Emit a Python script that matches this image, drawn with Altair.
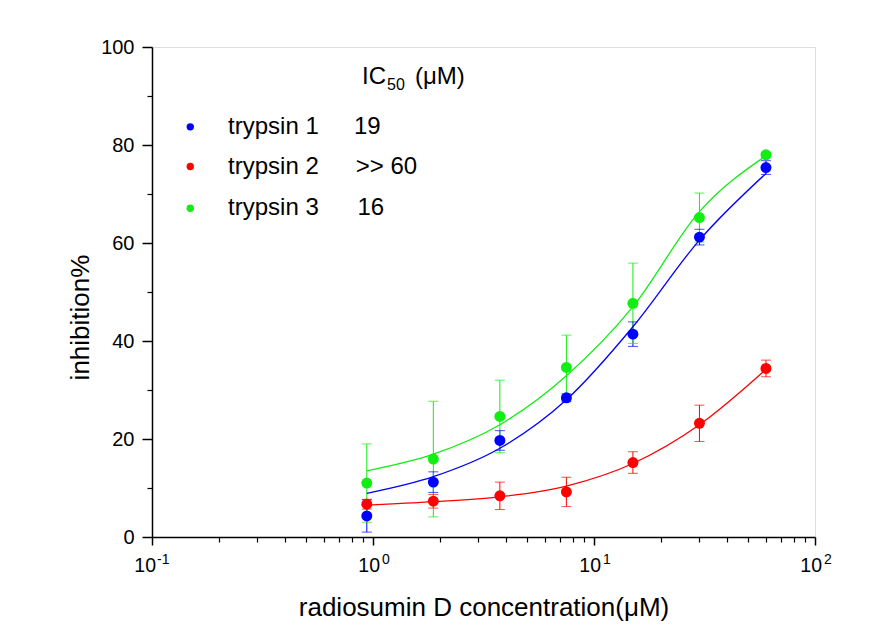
import altair as alt
import pandas as pd

# ---------------- data ----------------
conc = [0.9375, 1.875, 3.75, 7.5, 15, 30, 60]
series = ["trypsin 1", "trypsin 2", "trypsin 3"]
ic50 = ["19", ">> 60", "16"]
colors = ["#0000ff", "#ff0000", "#11ee11"]

t1_mean = [4.3, 11.2, 19.7, 28.4, 41.4, 61.2, 75.4]
t1_err = [3.3, 2.1, 2.0, 0.8, 2.5, 1.6, 1.4]
t2_mean = [6.7, 7.3, 8.4, 9.2, 15.2, 23.2, 34.4]
t2_err = [1.0, 1.4, 2.8, 3.0, 2.2, 3.7, 1.7]
t3_mean = [11.0, 15.9, 24.6, 34.6, 47.7, 65.2, 78.0]
t3_err = [8.0, 11.8, 7.4, 6.6, 8.2, 5.0, 0.5]

# fitted curves (at each concentration)
t1_fit = [8.9, 12.3, 18.1, 28.0, 42.9, 60.6, 74.2]
t2_fit = [6.5, 7.2, 8.2, 10.4, 15.0, 22.9, 34.2]
t3_fit = [13.5, 16.9, 22.9, 32.9, 47.0, 66.4, 77.8]

x_major = [0.1, 1, 10, 100]
x_exp = ["-1", "0", "1", "2"]
x_minor = [0.2, 0.3, 0.4, 0.5, 0.6, 0.7, 0.8, 0.9,
           2, 3, 4, 5, 6, 7, 8, 9,
           20, 30, 40, 50, 60, 70, 80, 90]
y_major = [0, 20, 40, 60, 80, 100]
y_minor = [10, 30, 50, 70, 90]

# ---------------- tables ----------------
means = [t1_mean, t2_mean, t3_mean]
errs = [t1_err, t2_err, t3_err]
fits = [t1_fit, t2_fit, t3_fit]
rows = []
for s, m, e, f in zip(series, means, errs, fits):
    for c, mv, ev, fv in zip(conc, m, e, f):
        rows.append({"series": s, "conc": c, "mean": mv,
                     "lo": mv - ev, "hi": mv + ev, "fit": fv})
df = pd.DataFrame(rows)

# legend layout (anchor positions in data units)
LEG_DOT_X = 0.149
LEG_LABEL_X = 0.221
LEG_VAL_X = [0.820, 0.835, 0.851]
LEG_Y = [83.7, 75.6, 67.1]
TITLE_X, TITLE_Y = 0.892, 93.8
leg = pd.DataFrame({"series": series, "ic50": ic50, "y": LEG_Y,
                    "dotx": [LEG_DOT_X] * 3, "labx": [LEG_LABEL_X] * 3,
                    "valx": LEG_VAL_X})
ticklab = pd.DataFrame({"x": x_major, "exp": x_exp, "y": [0] * 4})

FONT = "Liberation Sans"
xscale = alt.Scale(type="log", domain=[0.1, 100], nice=False)
yscale = alt.Scale(domain=[0, 100], nice=False, zero=False)
cscale = alt.Scale(domain=series, range=colors)
col = alt.Color("series:N", scale=cscale, legend=None)

main_x_axis = alt.Axis(values=x_major, labels=False, tickSize=8, tickWidth=1.5,
                       tickColor="black", domainColor="black", domainWidth=1.5,
                       grid=False, orient="bottom",
                       title="radiosumin D concentration(\u03bcM)",
                       titleFont=FONT, titleFontSize=26, titleFontWeight="normal",
                       titleColor="black", titleBaseline="middle", titleY=70)
main_y_axis = alt.Axis(values=y_major, tickSize=10, tickWidth=1.5, tickColor="black",
                       domainColor="black", domainWidth=1.5, grid=False, orient="left",
                       labelFont=FONT, labelFontSize=20, labelColor="black",
                       labelPadding=8, title="inhibition%", titleFont=FONT,
                       titleFontSize=26, titleFontWeight="normal", titleColor="black",
                       titleX=-72, titleY=270, titleAngle=-90,
                       titleBaseline="middle", titleAlign="center")
minor_x_axis = alt.Axis(values=x_minor, labels=False, tickSize=5, tickWidth=1.2,
                        tickColor="black", domain=False, grid=False, orient="bottom",
                        title=None)
minor_y_axis = alt.Axis(values=y_minor, labels=False, tickSize=5, tickWidth=1.2,
                        tickColor="black", domain=False, grid=False, orient="left",
                        title=None)

base = alt.Chart(df)

err = base.mark_rule(strokeWidth=1).encode(
    x=alt.X("conc:Q", scale=xscale, axis=main_x_axis),
    y=alt.Y("lo:Q", scale=yscale, axis=main_y_axis),
    y2="hi:Q", color=col)

cap_lo = base.mark_tick(orient="horizontal", size=10, thickness=1).encode(
    x=alt.X("conc:Q", scale=xscale, axis=minor_x_axis),
    y=alt.Y("lo:Q", scale=yscale, axis=minor_y_axis), color=col)
cap_hi = base.mark_tick(orient="horizontal", size=10, thickness=1).encode(
    x=alt.X("conc:Q", scale=xscale, axis=None),
    y=alt.Y("hi:Q", scale=yscale, axis=None), color=col)

lines = base.mark_line(strokeWidth=1.3, interpolate="monotone").encode(
    x=alt.X("conc:Q", scale=xscale, axis=None),
    y=alt.Y("fit:Q", scale=yscale, axis=None), color=col, detail="series:N")

pts = base.mark_circle(size=120, opacity=1).encode(
    x=alt.X("conc:Q", scale=xscale, axis=None),
    y=alt.Y("mean:Q", scale=yscale, axis=None), color=col)

lbase = alt.Chart(leg)
leg_dots = lbase.mark_circle(size=55, opacity=1).encode(
    x=alt.X("dotx:Q", scale=xscale, axis=None),
    y=alt.Y("y:Q", scale=yscale, axis=None), color=col)
leg_lab = lbase.mark_text(align="left", baseline="middle", font=FONT, fontSize=24,
                          color="black").encode(
    x=alt.X("labx:Q", scale=xscale, axis=None),
    y=alt.Y("y:Q", scale=yscale, axis=None), text="series:N")
leg_val = lbase.mark_text(align="left", baseline="middle", font=FONT, fontSize=24,
                          color="black").encode(
    x=alt.X("valx:Q", scale=xscale, axis=None),
    y=alt.Y("y:Q", scale=yscale, axis=None), text="ic50:N")

title_df = pd.DataFrame({"x": [TITLE_X], "y": [TITLE_Y]})
tbase = alt.Chart(title_df)
enc_t = dict(x=alt.X("x:Q", scale=xscale, axis=None),
             y=alt.Y("y:Q", scale=yscale, axis=None))
t_ic = tbase.mark_text(align="left", baseline="middle", font=FONT, fontSize=24,
                       color="black", text="IC").encode(**enc_t)
t_50 = tbase.mark_text(align="left", baseline="middle", font=FONT, fontSize=16,
                       color="black", text="50", dx=25, dy=8).encode(**enc_t)
t_um = tbase.mark_text(align="left", baseline="middle", font=FONT, fontSize=24,
                       color="black", text="(\u03bcM)", dx=53).encode(**enc_t)

kbase = alt.Chart(ticklab)
enc_k = dict(x=alt.X("x:Q", scale=xscale, axis=None),
             y=alt.Y("y:Q", scale=yscale, axis=None))
neg = alt.datum.exp == "-1"
pos = alt.datum.exp != "-1"
k_ten_n = kbase.transform_filter(neg).mark_text(
    align="right", baseline="middle", font=FONT, fontSize=19.5,
    color="black", text="10", dx=4, dy=29).encode(**enc_k)
k_exp_n = kbase.transform_filter(neg).mark_text(
    align="left", baseline="middle", font=FONT, fontSize=14,
    color="black", dx=5, dy=23).encode(text="exp:N", **enc_k)
k_ten_p = kbase.transform_filter(pos).mark_text(
    align="right", baseline="middle", font=FONT, fontSize=19.5,
    color="black", text="10", dx=7, dy=29).encode(**enc_k)
k_exp_p = kbase.transform_filter(pos).mark_text(
    align="left", baseline="middle", font=FONT, fontSize=14,
    color="black", dx=9, dy=23).encode(text="exp:N", **enc_k)

chart = alt.layer(err, cap_lo, cap_hi, lines, pts, leg_dots, leg_lab, leg_val,
                  t_ic, t_50, t_um, k_ten_n, k_exp_n, k_ten_p, k_exp_p).resolve_axis(
    x="independent", y="independent").properties(
    width=663, height=490, background="white",
    autosize=alt.AutoSizeParams(type="none"),
    padding={"left": 152, "top": 47, "right": 60, "bottom": 107},
).configure_view(stroke="black", strokeWidth=1.5).configure(font=FONT)

chart.save("out.html", embed_options={"renderer": "svg", "actions": False})
